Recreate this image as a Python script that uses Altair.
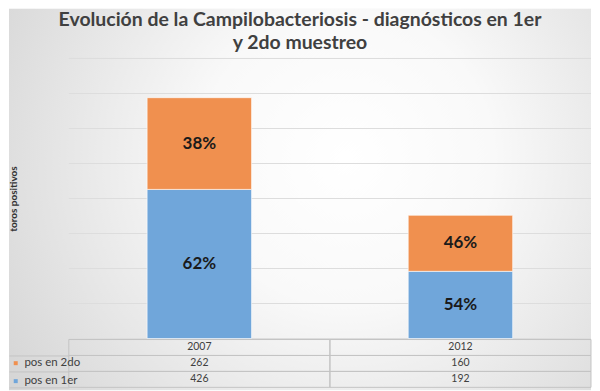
import altair as alt
import pandas as pd

# ---- data ----
years = ["2007", "2012"]
series = ["pos en 2do", "pos en 1er"]
pos_2do = [262, 160]
pos_1er = [426, 192]
pct_2do = ["38%", "46%"]
pct_1er = ["62%", "54%"]
grid_vals = [0, 100, 200, 300, 400, 500, 600, 700, 800]
colors = ["#F0904F", "#70A6DA"]
title_lines = ["Evolución de la Campilobacteriosis - diagnósticos en 1er", "y 2do muestreo"]
y_title = "toros positivos"

rows = []
for i, yr in enumerate(years):
    rows.append({"year": yr, "series": series[1], "value": pos_1er[i], "pct": pct_1er[i], "order": 0})
    rows.append({"year": yr, "series": series[0], "value": pos_2do[i], "pct": pct_2do[i], "order": 1})
df = pd.DataFrame(rows)

table_rows = ["header"] + series
tab = []
for i, yr in enumerate(years):
    tab.append({"year": yr, "row": "header", "txt": yr})
    tab.append({"year": yr, "row": series[0], "txt": str(pos_2do[i])})
    tab.append({"year": yr, "row": series[1], "txt": str(pos_1er[i])})
tdf = pd.DataFrame(tab)

FONT = "Lato"
W = 524
H = 281
TH = 48
TOP = 50
color_scale = alt.Scale(domain=series, range=colors)

# ---- top (bars) ----
yscale = alt.Scale(domain=[0, 800], nice=False)
yaxis = alt.Axis(title=y_title, labels=False, ticks=False, domain=False, grid=False,
                 minExtent=50, maxExtent=50, titlePadding=0, titleFont=FONT, zindex=2,
                 titleFontSize=10, titleFontWeight="bold", titleColor="#333333")
xenc = alt.X("year:N", scale=alt.Scale(domain=years, paddingInner=0.6, paddingOuter=0.3), axis=None)

grad = alt.RadialGradient(
    gradient="radial",
    x1=0.58, y1=0.43, r1=0, x2=0.58, y2=0.43, r2=0.72,
    stops=[alt.GradientStop(color="#ffffff", offset=0),
           alt.GradientStop(color="#f9f9f9", offset=0.35),
           alt.GradientStop(color="#d3d3d3", offset=1)],
)
bg = alt.Chart(pd.DataFrame({"k": [0]})).mark_rect(fill=grad).encode(
    x=alt.value(-60), x2=alt.value(W), y=alt.value(-TOP), y2=alt.value(H + 1 + TH + 3)
)

rules = alt.Chart(pd.DataFrame({"g": grid_vals})).mark_rule(color="#dddddd", strokeWidth=1).encode(
    y=alt.Y("g:Q", scale=yscale, axis=yaxis)
)

base = alt.Chart(df).transform_stack(
    stack="value", groupby=["year"], sort=[alt.SortField("order")], as_=["v0", "v1"]
).transform_calculate(mid="(datum.v0 + datum.v1) / 2")

bars = base.mark_bar(stroke="white", strokeWidth=1, strokeOpacity=0.6).encode(
    x=xenc,
    y=alt.Y("v0:Q", scale=yscale, axis=yaxis),
    y2="v1:Q",
    color=alt.Color("series:N", scale=color_scale, legend=None),
)
labels = base.mark_text(font=FONT, fontSize=17, fontWeight="bold", color="#1a1a1a").encode(
    x=xenc,
    y=alt.Y("mid:Q", scale=yscale, axis=yaxis),
    text="pct:N",
)
top = alt.layer(bg, rules, bars, labels).properties(width=W, height=H)

# ---- bottom (data table) ----
tx = alt.X("year:N", scale=alt.Scale(domain=years, paddingInner=0, paddingOuter=0), axis=None)
ty = alt.Y("row:N", scale=alt.Scale(domain=table_rows, paddingInner=0, paddingOuter=0),
           axis=alt.Axis(labels=False, title=None, domain=False, ticks=True, tickSize=60,
                         bandPosition=1, tickColor="#c4c4c4", tickWidth=1, grid=False))
cells = alt.Chart(tdf).mark_rect(fill="white", fillOpacity=0, stroke="#c4c4c4", strokeWidth=1).encode(
    x=tx, y=ty
)
texts = alt.Chart(tdf).mark_text(font=FONT, fontSize=10.5, color="#404040").encode(
    x=tx, y=ty, text="txt:N"
)
leg = alt.Chart(pd.DataFrame({"series": series})).mark_square(opacity=0, size=1).encode(
    color=alt.Color("series:N", scale=color_scale,
                    legend=alt.Legend(orient="none", legendX=-59, legendY=18, title=None,
                                      symbolType="square", symbolSize=16, symbolOpacity=1,
                                      symbolStrokeWidth=0, labelFont=FONT, labelFontSize=11.5,
                                      labelColor="#404040", rowPadding=5, labelOffset=3, padding=0))
)
table = alt.layer(cells, texts, leg).properties(width=W, height=TH)

chart = alt.vconcat(top, table, spacing=1, bounds="flush").resolve_scale(
    x="independent", y="independent", color="independent"
).properties(
    title=alt.TitleParams(text=title_lines, font=FONT, fontSize=19.5, fontWeight="bold",
                          color="#404040", anchor="middle", lineHeight=23, offset=-45),
    padding=0,
).configure_view(strokeWidth=0)

chart.save("out.html", embed_options={"renderer": "svg", "actions": False})
